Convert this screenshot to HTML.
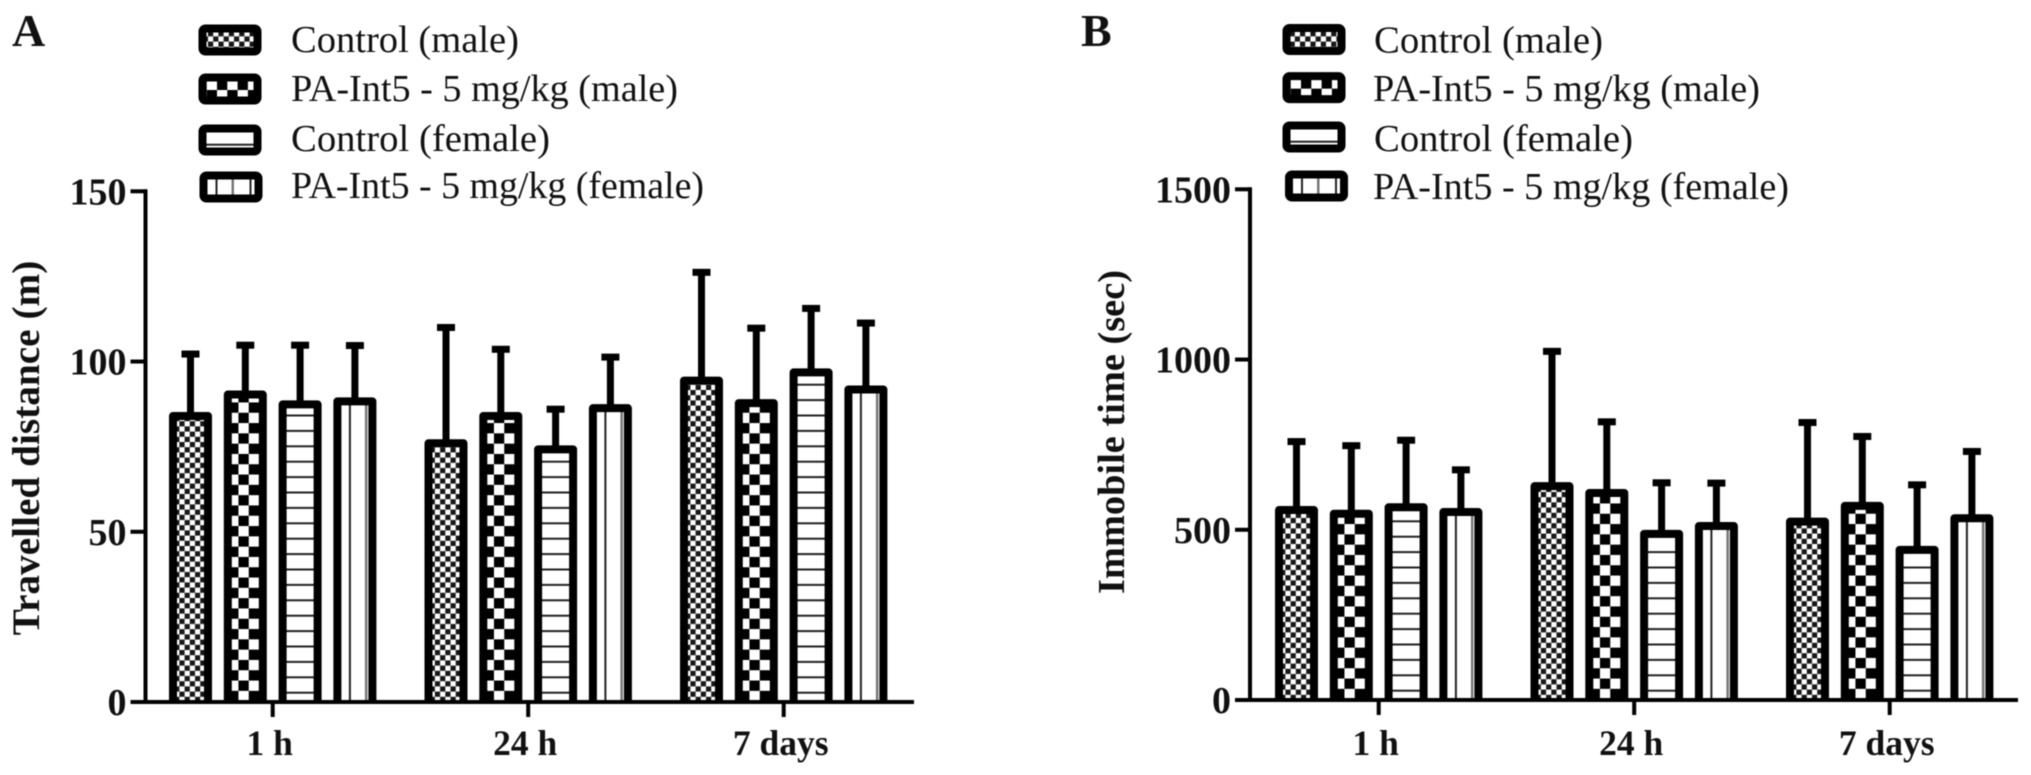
<!DOCTYPE html>
<html lang="en">
<head>
<meta charset="utf-8">
<title>Travelled distance and immobile time</title>
<style>
html,body{margin:0;padding:0;background:#fff;width:2031px;height:775px;overflow:hidden}
svg{display:block;filter:blur(0.55px)}
text{font-family:"Liberation Serif",serif;fill:#111}
.b{font-weight:bold}
</style>
</head>
<body>
<svg id="figure" xmlns="http://www.w3.org/2000/svg" width="2031" height="775" viewBox="0 0 2031 775">
<defs>
<pattern id="pat-fine" patternUnits="userSpaceOnUse" x="0" y="0" width="10.4" height="10.4">
<rect width="10.4" height="10.4" fill="#fff"/>
<rect x="0" y="0" width="5.2" height="5.2" fill="#161616"/>
<rect x="5.2" y="5.2" width="5.2" height="5.2" fill="#161616"/>
</pattern>
<pattern id="pat-coarse" patternUnits="userSpaceOnUse" x="4.35" y="-11.15" width="20.6" height="20.6">
<rect width="20.6" height="20.6" fill="#fff"/>
<rect x="0" y="0" width="10.3" height="10.3" fill="#000"/>
<rect x="10.3" y="10.3" width="10.3" height="10.3" fill="#000"/>
</pattern>
<pattern id="pat-horizontal" patternUnits="userSpaceOnUse" x="0" y="-10.3" width="20" height="15.4">
<rect width="20" height="15.4" fill="#fff"/>
<rect x="0" y="0" width="20" height="2" fill="#222"/>
</pattern>
<pattern id="pat-vertical" patternUnits="userSpaceOnUse" x="0" y="0" width="34" height="10">
<rect width="34" height="10" fill="#fff"/>
<rect x="15.5" y="0" width="2" height="10" fill="#222"/>
<rect x="31.5" y="0" width="2.5" height="10" fill="#777"/>
</pattern>
</defs>

<text class="b" x="12" y="46" font-size="46">A</text>
<text class="b" x="1081" y="46" font-size="46">B</text>

<text class="b" font-size="39.3" text-anchor="middle" transform="translate(39,448) rotate(-90)">Travelled distance (m)</text>
<text class="b" font-size="38.4" text-anchor="middle" transform="translate(1124,432) rotate(-90)">Immobile time (sec)</text>

<g>
<g>
<rect x="202.5" y="28.5" width="55" height="23" rx="3" fill="url(#pat-fine)" stroke="#000" stroke-width="8"/>
<text x="291" y="52" font-size="38.5" textLength="228" lengthAdjust="spacingAndGlyphs">Control (male)</text>
</g>
<g>
<g transform="translate(212.65,90.85)"><rect x="-10.15" y="-13.35" width="55" height="23" rx="3" fill="url(#pat-coarse)" stroke="#000" stroke-width="8"/></g>
<text x="291" y="101" font-size="38.5" textLength="387" lengthAdjust="spacingAndGlyphs">PA-Int5 - 5 mg/kg (male)</text>
</g>
<g>
<g transform="translate(199,154)"><rect x="3.5" y="-25.5" width="55" height="23" rx="3" fill="url(#pat-horizontal)" stroke="#000" stroke-width="8"/></g>
<text x="291" y="151" font-size="38.5" textLength="259" lengthAdjust="spacingAndGlyphs">Control (female)</text>
</g>
<g>
<g transform="translate(200,172)"><rect x="3.5" y="3.5" width="55" height="23" rx="3" fill="url(#pat-vertical)" stroke="#000" stroke-width="8"/></g>
<text x="291" y="198" font-size="38.5" textLength="413" lengthAdjust="spacingAndGlyphs">PA-Int5 - 5 mg/kg (female)</text>
</g>
</g>

<g>
<g>
<rect x="1286.5" y="28" width="55" height="23" rx="3" fill="url(#pat-fine)" stroke="#000" stroke-width="8"/>
<text x="1374" y="52.5" font-size="38.5" textLength="229" lengthAdjust="spacingAndGlyphs">Control (male)</text>
</g>
<g>
<g transform="translate(1296.65,89.5)"><rect x="-10.15" y="-13.35" width="55" height="23" rx="3" fill="url(#pat-coarse)" stroke="#000" stroke-width="8"/></g>
<text x="1373" y="101" font-size="38.5" textLength="387" lengthAdjust="spacingAndGlyphs">PA-Int5 - 5 mg/kg (male)</text>
</g>
<g>
<g transform="translate(1283,151)"><rect x="3.5" y="-25.5" width="55" height="23" rx="3" fill="url(#pat-horizontal)" stroke="#000" stroke-width="8"/></g>
<text x="1374" y="151" font-size="38.5" textLength="259" lengthAdjust="spacingAndGlyphs">Control (female)</text>
</g>
<g>
<g transform="translate(1285.5,171)"><rect x="3.5" y="3.5" width="55" height="23" rx="3" fill="url(#pat-vertical)" stroke="#000" stroke-width="8"/></g>
<text x="1373" y="199" font-size="38.5" textLength="416" lengthAdjust="spacingAndGlyphs">PA-Int5 - 5 mg/kg (female)</text>
</g>
</g>
</svg>

<script>
const categories = ['1 h', '24 h', '7 days'];
const seriesPatterns = ['pat-fine', 'pat-coarse', 'pat-horizontal', 'pat-vertical'];

const distanceTicks = [0, 50, 100, 150];
const distanceControlMale = [84, 76, 94.4];
const distanceControlMaleUpper = [102.2, 110, 126.2];
const distanceDrugMale = [90.3, 84, 87.8];
const distanceDrugMaleUpper = [104.8, 103.6, 109.8];
const distanceControlFemale = [87.4, 74.2, 96.8];
const distanceControlFemaleUpper = [104.8, 86, 115.6];
const distanceDrugFemale = [88.3, 86.3, 91.8];
const distanceDrugFemaleUpper = [104.7, 101.3, 111.3];

const timeTicks = [0, 500, 1000, 1500];
const timeControlMale = [558, 628, 524];
const timeControlMaleUpper = [759, 1024, 815];
const timeDrugMale = [547, 608, 570];
const timeDrugMaleUpper = [747, 817, 774];
const timeControlFemale = [566, 488, 441];
const timeControlFemaleUpper = [763, 638, 632];
const timeDrugFemale = [552, 511, 534];
const timeDrugFemaleUpper = [676, 637, 730];

const NS = 'http://www.w3.org/2000/svg';
const figure = document.getElementById('figure');

function make(tag, attrs, parent) {
  const el = document.createElementNS(NS, tag);
  for (const k in attrs) el.setAttribute(k, attrs[k]);
  parent.appendChild(el);
  return el;
}

function drawPanel(cfg) {
  const yScale = v => cfg.baseY - (v / cfg.max) * cfg.plotHeight;
  const groupX = g => cfg.firstBar + g * 255.5;
  const barX = (g, s) => groupX(g) + s * 54.8;
  const catX = g => barX(g, 0) + 1.5 * 54.8 + 21.5;

  const panel = make('g', {}, figure);
  
  

  cfg.means.forEach((series, s) => {
    series.forEach((value, g) => {
      const top = yScale(value);
      const cap = yScale(cfg.uppers[s][g]);
      const cx = barX(g, s) + 21.5;

      const stem = make('rect', {x: cx - 3.5, y: cap, width: 7, height: top - cap, fill: '#000'}, panel);
      
      

      const capMark = make('rect', {x: cx - 9, y: cap - 3.5, width: 18, height: 7, fill: '#000'}, panel);
      
      

      const holder = make('g', {transform: 'translate(' + barX(g, s) + ',' + cfg.baseY + ')'}, panel);
      const h = top - cfg.baseY;
      const bar = make('path', {
        d: 'M4,0 V' + h + ' H39 V0',
        fill: 'url(#' + seriesPatterns[s] + ')', stroke: '#000', 'stroke-width': 8, 'stroke-linejoin': 'round'
      }, holder);
      
      
    });
  });

  const yLine = make('line', {x1: cfg.axisX, x2: cfg.axisX, y1: yScale(cfg.max) - 2, y2: cfg.baseY, stroke: '#000', 'stroke-width': 4}, panel);
  
  

  const xLine = make('line', {x1: cfg.axisX - 15, x2: cfg.axisEnd, y1: cfg.baseY, y2: cfg.baseY, stroke: '#000', 'stroke-width': 4}, panel);
  
  

  cfg.ticks.forEach(t => {
    const tick = make('line', {x1: cfg.axisX - 15, x2: cfg.axisX, y1: yScale(t), y2: yScale(t), stroke: '#000', 'stroke-width': 4}, panel);
    
    

    const label = make('text', {x: cfg.axisX - 19, y: yScale(t) + 13, 'text-anchor': 'end', 'font-size': 38, class: 'b'}, panel);
    
    
    label.textContent = t;
  });

  categories.forEach((name, g) => {
    const tick = make('line', {x1: catX(g), x2: catX(g), y1: cfg.baseY, y2: cfg.baseY + 15, stroke: '#000', 'stroke-width': 4}, panel);
    
    

    const label = make('text', {x: catX(g) - 3, y: 755, 'text-anchor': 'middle', 'font-size': 35.5, class: 'b'}, panel);
    
    
    label.textContent = name;
  });
}

drawPanel({
  axisX: 145.5, axisEnd: 914, baseY: 702, plotHeight: 510.7, max: 150, firstBar: 169,
  ticks: distanceTicks,
  means: [distanceControlMale, distanceDrugMale, distanceControlFemale, distanceDrugFemale],
  uppers: [distanceControlMaleUpper, distanceDrugMaleUpper, distanceControlFemaleUpper, distanceDrugFemaleUpper]
});

drawPanel({
  axisX: 1250, axisEnd: 2018, baseY: 700, plotHeight: 510.7, max: 1500, firstBar: 1275,
  ticks: timeTicks,
  means: [timeControlMale, timeDrugMale, timeControlFemale, timeDrugFemale],
  uppers: [timeControlMaleUpper, timeDrugMaleUpper, timeControlFemaleUpper, timeDrugFemaleUpper]
});
</script>
</body>
</html>
